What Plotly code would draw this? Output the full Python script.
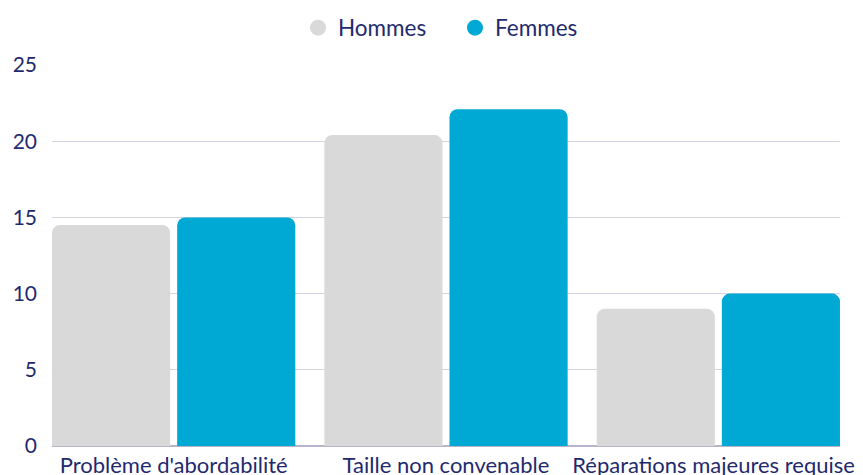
import plotly.graph_objects as go

categories = ["Problème d'abordabilité", "Taille non convenable", "Réparations majeures requises"]
hommes = [14.5, 20.4, 9.0]
femmes = [15.0, 22.1, 10.0]
series_names = ["Hommes", "Femmes"]
colors = ["#d9d9d9", "#00a8d4"]
y_ticks = [0, 5, 10, 15, 20, 25]

xpos = list(range(len(categories)))
text_color = "#1f2a6e"
font_family = "Lato, sans-serif"
W, H = 863, 467  # page body adds an 8px offset

fig = go.Figure()
for name, vals, col in zip(series_names, [hommes, femmes], colors):
    fig.add_trace(go.Bar(x=xpos, y=vals, name=name, marker=dict(color=col, line=dict(width=0)),
                         showlegend=False, hoverinfo="y"))
for name, col in zip(series_names, colors):
    fig.add_trace(go.Scatter(x=[None], y=[None], mode="markers", name=name,
                             marker=dict(color=col, size=24, symbol="circle")))

fig.update_layout(
    width=W, height=H,
    margin=dict(l=44, r=31, t=57, b=29, autoexpand=False),
    paper_bgcolor="white", plot_bgcolor="white",
    barmode="group", bargap=0.081, bargroupgap=0.056,
    barcornerradius=8,
    font=dict(family=font_family, size=22, color=text_color),
    legend=dict(orientation="h", x=0.5 + 9 / 788, xanchor="center", xref="paper",
                y=1 - 20 / H, yanchor="middle", yref="container",
                font=dict(size=22.5, color=text_color),
                itemsizing="trace", entrywidth=112, entrywidthmode="pixels"),
    xaxis=dict(tickmode="array", tickvals=xpos, ticktext=categories,
               range=[-0.4467, 2.4467], showgrid=False, zeroline=False, automargin=False,
               showline=False, ticks="", ticklabelstandoff=4, ticklabeloverflow="allow",
               tickfont=dict(size=22, color=text_color)),
    yaxis=dict(range=[0, 25], tickvals=y_ticks, showgrid=True, gridcolor="#d4d4e4",
               gridwidth=1, zeroline=True, zerolinecolor="#b8b4cc", zerolinewidth=1.5,
               showline=False, ticks="", ticklabelstandoff=14, automargin=False,
               tickfont=dict(size=21, color=text_color)),
)

fig.write_html("out.html")
